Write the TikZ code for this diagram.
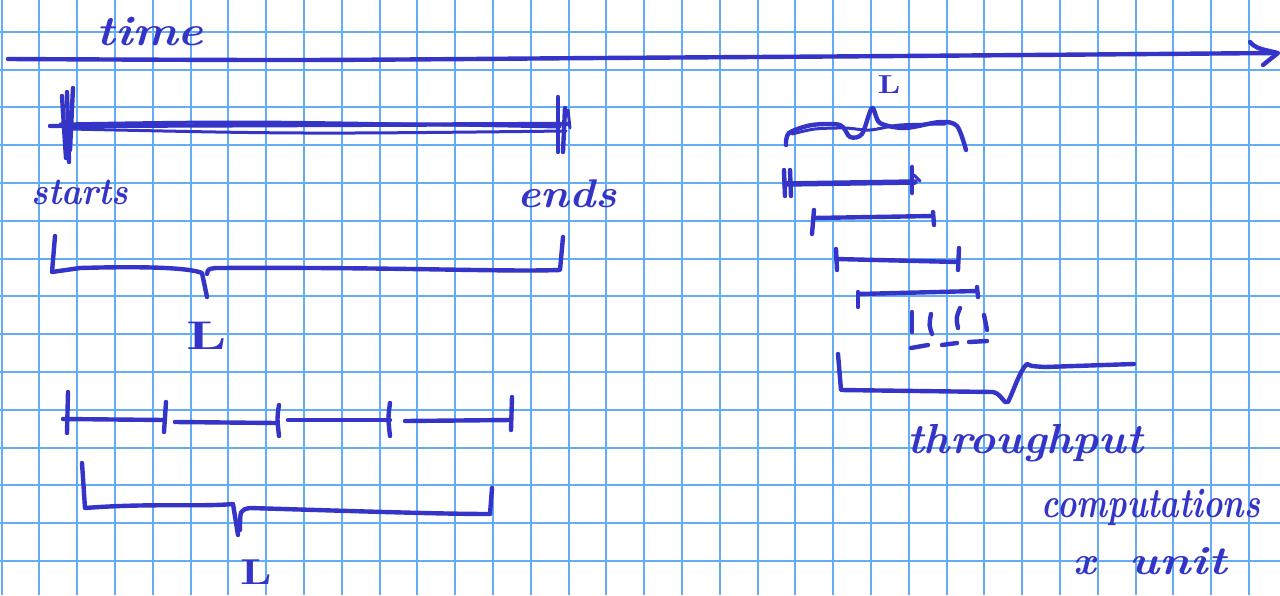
\documentclass[tikz,border=0pt]{standalone}
\usepackage{fontspec}
\definecolor{gridc}{RGB}{100,172,245}
\definecolor{ink}{RGB}{52,52,200}
\begin{document}
\begin{tikzpicture}[x=1pt,y=-1pt,
  pen/.style={draw=ink,line width=4.4pt,line cap=round,line join=round},
  thin pen/.style={draw=ink,line width=3pt,line cap=round,line join=round},
  gridline/.style={draw=gridc,line width=2pt},
  hand/.style={text=ink,inner sep=0pt},
  ell/.style={text=ink,inner sep=0pt,font=\bfseries\fontsize{40}{40}\selectfont}]
\useasboundingbox (0,0) rectangle (1280,595);
\fill[white] (0,0) rectangle (1280,595);
% grid
\foreach \i in {0,...,33} \draw[gridline] ({1.5+37.8*\i},0) -- ++(0,595);
\foreach \j in {1,...,15} \draw[gridline] (0,{-6.1+37.8*\j}) -- ++(1280,0);
% time axis
\draw[pen] plot[smooth] coordinates {(8,59) (300,60) (600,58) (900,56) (1276,53)};
\draw[pen] (1250,42) .. controls (1256,48) .. (1278,53) -- (1263,65);
\node[hand,font=\bfseries\itshape\fontsize{42}{42}\selectfont] (time) at (150,32) {\scalebox{1.15}[1]{time}};
% top-left bar
\draw[pen] (50,126) -- (568,124);
\draw[thin pen] (70,129) .. controls (300,134) .. (566,131);
\draw[thin pen] (60,124) .. controls (250,121) .. (560,127);
\draw[pen] (62,96) -- (66,158);
\draw[pen] (67,92) -- (69,162);
\draw[pen] (73,88) -- (70,150);
\draw[pen] (558,97) -- (558,152);
\draw[pen] (565,108) -- (563,152);
\draw[thin pen] (568,110) -- (570,128);
\node[hand,font=\bfseries\itshape\fontsize{38}{38}\selectfont] (starts) at (80,192) {\scalebox{0.9}[1]{starts}};
\node[hand,font=\bfseries\itshape\fontsize{40}{40}\selectfont] (ends) at (567,194) {\scalebox{1.1}[1]{ends}};
% upper-left brace
\draw[pen] (55,236) -- (52,272) -- (80,268) .. controls (150,266) and (190,268) .. (202,273) -- (207,297);
\draw[pen] (207,274) .. controls (208,269) .. (216,268) .. controls (400,267) and (500,272) .. (560,270) -- (563,237);
\node[ell] (L1) at (207,336) {\scalebox{1.5}[1]{L}};
% bottom-left segments
\draw[pen] (63,419) -- (165,420);
\draw[pen] (68,392) -- (67,433);
\draw[pen] (166,402) -- (164,432);
\draw[pen] (175,422) -- (277,423);
\draw[pen] (279,405) .. controls (277,418) .. (279,436);
\draw[pen] (288,420) -- (390,420);
\draw[pen] (390,403) .. controls (388,418) .. (390,436);
\draw[pen] (405,421) -- (511,420);
\draw[pen] (512,397) -- (511,430);
% bottom-left brace
\draw[pen] (82,463) -- (85,508) .. controls (150,503) and (200,507) .. (233,504) -- (238,535);
\draw[pen] (240,530) .. controls (240,510) .. (250,508) .. controls (350,511) and (440,514) .. (490,514) -- (492,488);
\node[ell,font=\bfseries\fontsize{36}{36}\selectfont] (L2) at (256,572) {\scalebox{1.3}[1]{L}};
% right top brace
\draw[pen] plot[smooth] coordinates {(786,145) (789,133) (812,125) (840,125) (850,137) (862,134) (872,108) (880,123) (905,128) (940,122) (957,126) (966,150)};
\draw[thin pen] plot[smooth] coordinates {(792,134) (815,129) (845,128) (870,130) (900,125) (945,124)};
\node[ell,font=\bfseries\fontsize{26}{26}\selectfont] (L3) at (889,85) {\scalebox{1.3}[1]{L}};
% thick bar
\draw[pen,line width=5.5pt] (785,184) -- (915,182);
\draw[pen] (784,170) -- (785,196);
\draw[pen] (790,170) -- (791,196);
\draw[pen] (912,167) -- (912,193);
\draw[thin pen] (914,175) -- (920,181);
% bars
\draw[pen] (813,218) -- (933,216);
\draw[pen] (814,210) -- (812,234);
\draw[pen] (933,212) -- (934,225);
\draw[pen] (836,259) -- (958,262);
\draw[pen] (836,249) -- (837,270);
\draw[pen] (959,248) -- (958,270);
\draw[pen] (858,294) -- (977,291);
\draw[pen] (858,292) -- (858,307);
\draw[pen] (977,287) -- (978,297);
% small ticks
\draw[pen] (912,312) -- (912,332);
\draw[pen] (931,314) .. controls (929,325) .. (932,334);
\draw[pen] (960,308) .. controls (956,318) .. (958,328);
\draw[pen] (984,315) .. controls (985,322) .. (987,330);
\draw[pen] (911,348) -- (928,345);
\draw[pen] (942,345) -- (957,343);
\draw[pen] (969,342) -- (987,341);
% bottom-right brace
\draw[pen] (838,354) -- (841,390) -- (993,392) .. controls (1002,394) and (1004,405) .. (1008,402) .. controls (1014,390) and (1020,370) .. (1027,364) .. controls (1030,366) .. (1045,367) -- (1134,364);
% texts right
\node[hand,font=\bfseries\itshape\fontsize{42}{42}\selectfont] (tput) at (1025,443) {\scalebox{1.05}[1]{throughput}};
\node[hand,font=\bfseries\itshape\fontsize{42}{42}\selectfont] (comp) at (1151,507) {\scalebox{0.78}[1]{computations}};
\node[hand,font=\bfseries\itshape\fontsize{40}{40}\selectfont] (xunit) at (1150,561) {x\hspace{34pt}\scalebox{1.2}[1]{unit}};
\end{tikzpicture}
\end{document}
